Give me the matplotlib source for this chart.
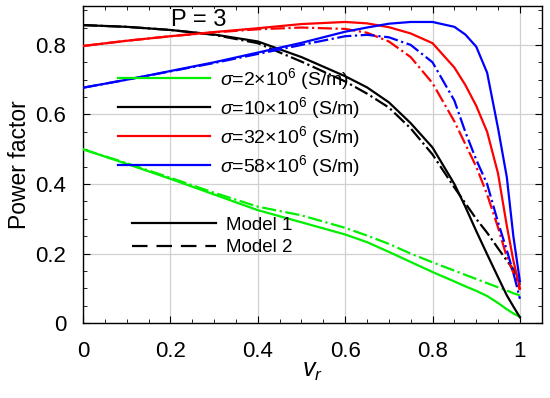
import numpy as np
import matplotlib
matplotlib.use('Agg')
import matplotlib.pyplot as plt
from matplotlib.lines import Line2D
from matplotlib.ticker import MultipleLocator

plt.rcParams['font.family'] = ['Liberation Sans', 'DejaVu Sans']
plt.rcParams['mathtext.fontset'] = 'custom'
plt.rcParams['mathtext.rm'] = 'Liberation Sans'
plt.rcParams['mathtext.it'] = 'Liberation Sans:italic'

# velocity ratio
vr = [0, 0.1, 0.2, 0.3, 0.4, 0.5, 0.6, 0.65, 0.7, 0.75, 0.8, 0.85, 0.875, 0.9, 0.925, 0.95, 0.97, 0.985, 1.0]

# Model 1 (solid)
m1_s2 = [0.50, 0.458, 0.415, 0.37, 0.325, 0.29, 0.255, 0.233, 0.205, 0.176, 0.147, 0.12, 0.106, 0.093, 0.078, 0.058, 0.04, 0.028, 0.018]
m1_s10 = [0.857, 0.852, 0.843, 0.83, 0.81, 0.765, 0.71, 0.678, 0.635, 0.575, 0.505, 0.40, 0.335, 0.265, 0.198, 0.132, 0.08, 0.048, 0.017]
m1_s32 = [0.797, 0.812, 0.825, 0.837, 0.848, 0.86, 0.866, 0.862, 0.851, 0.833, 0.805, 0.735, 0.685, 0.625, 0.55, 0.43, 0.28, 0.18, 0.10]
m1_s58 = [0.677, 0.70, 0.725, 0.75, 0.778, 0.806, 0.838, 0.85, 0.861, 0.866, 0.866, 0.852, 0.83, 0.795, 0.72, 0.56, 0.42, 0.25, 0.12]

# Model 2 (dash-dot)
m2_s2 = [0.50, 0.46, 0.418, 0.375, 0.335, 0.31, 0.274, 0.252, 0.228, 0.20, 0.175, 0.151, 0.139, 0.127, 0.115, 0.103, 0.094, 0.086, 0.08]
m2_s10 = [0.857, 0.852, 0.843, 0.829, 0.805, 0.752, 0.695, 0.66, 0.62, 0.56, 0.485, 0.39, 0.345, 0.30, 0.26, 0.215, 0.18, 0.155, 0.11]
m2_s32 = [0.797, 0.812, 0.825, 0.836, 0.845, 0.85, 0.846, 0.835, 0.81, 0.765, 0.69, 0.58, 0.515, 0.45, 0.37, 0.275, 0.19, 0.145, 0.095]
m2_s58 = [0.677, 0.70, 0.724, 0.748, 0.774, 0.80, 0.825, 0.829, 0.822, 0.80, 0.75, 0.64, 0.55, 0.47, 0.40, 0.29, 0.21, 0.145, 0.07]

colors = ['#00f000', 'black', 'red', 'blue']
labels = [r'$\sigma$=2$\times$10$^6$ (S/m)', r'$\sigma$=10$\times$10$^6$ (S/m)',
          r'$\sigma$=32$\times$10$^6$ (S/m)', r'$\sigma$=58$\times$10$^6$ (S/m)']
model1 = [m1_s2, m1_s10, m1_s32, m1_s58]
model2 = [m2_s2, m2_s10, m2_s32, m2_s58]

fig = plt.figure(figsize=(5.5, 3.98), dpi=100)
ax = fig.add_axes([0.151, 0.188, 0.834, 0.797])

for c, y1, y2 in zip(colors, model1, model2):
    ax.plot(vr, y1, color=c, lw=1.6, ls='-', zorder=3)
    ax.plot(vr, y2, color=c, lw=1.6, ls='-.', zorder=3)

ax.set_xlim(0, 1.05)
ax.set_ylim(0, 0.912)
ax.xaxis.set_minor_locator(MultipleLocator(0.05))
ax.yaxis.set_minor_locator(MultipleLocator(0.05))
ax.set_xticks([0, 0.2, 0.4, 0.6, 0.8, 1.0])
ax.set_xticklabels(['0', '0.2', '0.4', '0.6', '0.8', '1'])
ax.set_yticks([0, 0.2, 0.4, 0.6, 0.8])
ax.set_yticklabels(['0', '0.2', '0.4', '0.6', '0.8'])
ax.tick_params(which='both', direction='in', top=True, right=True, labelsize=16)
ax.tick_params(which='major', length=5)
ax.tick_params(which='minor', length=3)
ax.tick_params(axis='x', which='major', pad=13)
ax.tick_params(axis='y', which='major', pad=12)
ax.grid(True, which='major', color='#d0d0d0', lw=0.9)
ax.set_axisbelow(True)
for s in ax.spines.values():
    s.set_linewidth(1.0)

ax.set_xlabel(r'$v_r$', fontsize=18, labelpad=-2)
ax.set_ylabel('Power factor', fontsize=16.5, labelpad=3)

ax.text(0.265, 0.853, 'P = 3', fontsize=17, ha='center', va='baseline',
        bbox=dict(facecolor='white', edgecolor='none', pad=0.5), zorder=2.6, clip_on=False)

h1 = [Line2D([], [], color=c, lw=1.6) for c in colors]
leg1 = ax.legend(h1, labels, loc='upper left', bbox_to_anchor=(0.076, 0.812), frameon=False,
                 fontsize=14, handlelength=4.74, handletextpad=0.52, labelspacing=0.17,
                 borderpad=0, borderaxespad=0)
ax.add_artist(leg1)

h2 = [Line2D([], [], color='black', lw=1.6, ls='-'),
      Line2D([], [], color='black', lw=1.6, ls='--', dashes=(7, 4))]
ax.legend(h2, ['Model 1', 'Model 2'], loc='upper left', bbox_to_anchor=(0.107, 0.335), frameon=False,
          fontsize=13.5, handlelength=4.45, handletextpad=0.53, labelspacing=0.28,
          borderpad=0, borderaxespad=0)

fig.savefig('out.png', dpi=100)
